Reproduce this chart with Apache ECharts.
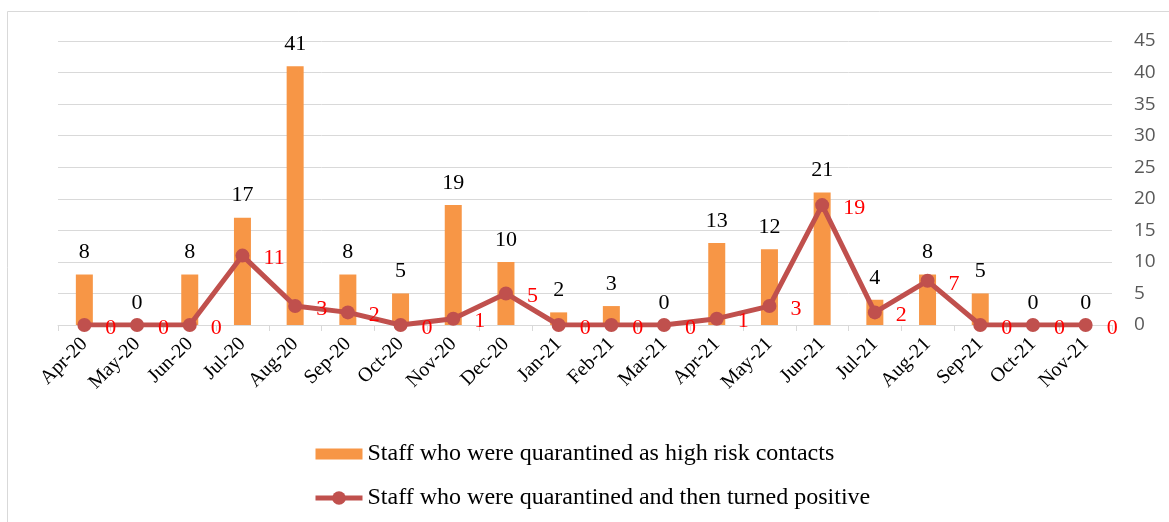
<!DOCTYPE html>
<html>
<head>
<meta charset="utf-8">
<script src="https://cdn.jsdelivr.net/npm/echarts@6/dist/echarts.min.js"></script>
<style>
html,body{margin:0;padding:0;background:#fff;}
#c{width:1169px;height:522px;}
</style>
</head>
<body>
<div id="c"></div>
<script>
var categories = ['Apr-20','May-20','Jun-20','Jul-20','Aug-20','Sep-20','Oct-20','Nov-20','Dec-20','Jan-21','Feb-21','Mar-21','Apr-21','May-21','Jun-21','Jul-21','Aug-21','Sep-21','Oct-21','Nov-21'];
var quarantined = [8,0,8,17,41,8,5,19,10,2,3,0,13,12,21,4,8,5,0,0];
var turnedPositive = [0,0,0,11,3,2,0,1,5,0,0,0,1,3,19,2,7,0,0,0];
var yTicks = [0,5,10,15,20,25,30,35,40,45];

var chart = echarts.init(document.getElementById('c'));
var serif = '"Liberation Serif", "DejaVu Serif", serif';
chart.setOption({
  animation: false,
  backgroundColor: '#fff',
  graphic: [{
    type: 'rect',
    shape: {x: 7.5, y: 11.5, width: 1200, height: 600},
    style: {fill: 'none', stroke: '#d9d9d9', lineWidth: 1},
    silent: true
  }],
  grid: {left: 58, right: 57, top: 41, bottom: 197},
  legend: {
    orient: 'vertical',
    left: 313,
    top: 442,
    padding: 0,
    itemGap: 20,
    itemWidth: 47,
    itemHeight: 17,
    textStyle: {fontFamily: serif, fontSize: 24, color: '#000'},
    data: [
      {name: 'Staff who were quarantined as high risk contacts', icon: 'path://M0,0h46v11h-46z'},
      {name: 'Staff who were quarantined and then turned positive', lineStyle: {width: 5}}
    ]
  },
  xAxis: {
    type: 'category',
    data: categories,
    boundaryGap: true,
    axisLine: {lineStyle: {color: '#d9d9d9', width: 1}},
    axisTick: {show: true, length: 6, lineStyle: {color: '#d9d9d9'}},
    axisLabel: {rotate: 45, margin: 16, fontFamily: serif, fontSize: 20, color: '#000', interval: 0}
  },
  yAxis: {
    type: 'value',
    position: 'right',
    min: 0, max: 45, interval: 5,
    axisLine: {show: false},
    axisTick: {show: false},
    splitLine: {lineStyle: {color: '#d9d9d9', width: 1}},
    axisLabel: {
      margin: 22, align: 'left',
      fontFamily: '"Open Sans", "Liberation Sans", sans-serif', fontSize: 19, color: '#595959',
      formatter: function(v){ return yTicks.indexOf(v) >= 0 ? String(v) : ''; }
    }
  },
  series: [
    {
      name: 'Staff who were quarantined as high risk contacts',
      type: 'bar',
      data: quarantined,
      barWidth: 17,
      itemStyle: {color: '#f79646'},
      label: {show: true, position: 'top', distance: 11, fontFamily: serif, fontSize: 22, color: '#000'},
      z: 2
    },
    {
      name: 'Staff who were quarantined and then turned positive',
      type: 'line',
      data: turnedPositive,
      symbol: 'circle',
      symbolSize: 14,
      lineStyle: {color: '#c0504d', width: 5},
      itemStyle: {color: '#c0504d'},
      label: {show: true, position: 'right', distance: 14, offset: [0, 3], fontFamily: serif, fontSize: 22, color: '#ff0000'},
      z: 3
    }
  ]
});
</script>
</body>
</html>
